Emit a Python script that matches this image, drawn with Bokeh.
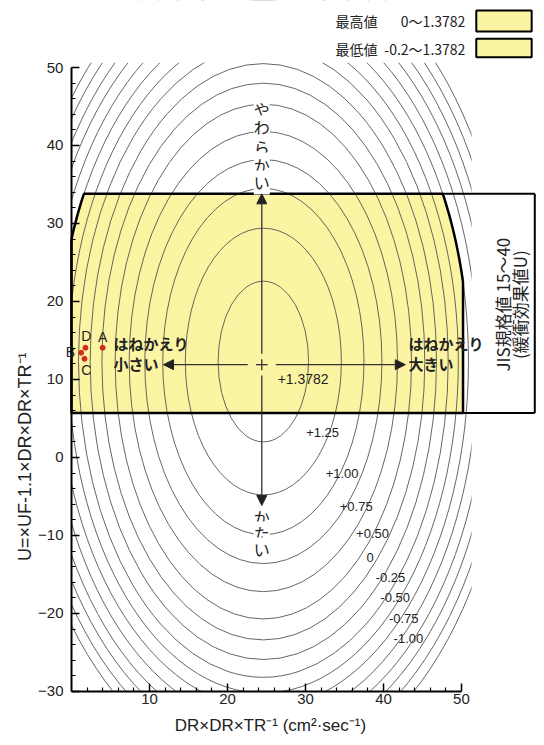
import numpy as np
from bokeh.plotting import figure
from bokeh.models import Range1d, FixedTicker, Arrow, NormalHead
from bokeh.core.properties import value
from bokeh.embed import file_html
from bokeh.resources import INLINE

# ---------------- data ----------------
levels = [1.25, 1.00, 0.75, 0.50, 0.25, 0.0, -0.25, -0.50, -0.75, -1.00,
          -1.25, -1.50, -1.75, -2.00, -2.25, -2.50]
semi_x = [5.8, 10.0, 12.9, 15.2, 17.2, 19.0, 20.7, 22.2, 23.7, 25.0,
          26.3, 27.5, 28.7, 29.8, 30.9, 31.9]
semi_y = [10.3, 17.1, 22.2, 25.9, 29.5, 33.0, 35.7, 38.2, 40.5, 42.5,
          44.4, 46.3, 48.1, 49.8, 51.5, 53.1]
center_x, center_y = 24.6, 12.3
cross_x, cross_y = 24.4, 11.9
peak_label = "+1.3782"
peak_x, peak_y = 29.7, 10.1

contour_labels = ["+1.25", "+1.00", "+0.75", "+0.50", "0", "-0.25", "-0.50", "-0.75", "-1.00"]
contour_label_x = [32.2, 34.7, 36.5, 38.6, 38.3, 40.9, 41.5, 42.6, 43.2]
contour_label_y = [3.2, -2.05, -6.3, -9.7, -12.8, -15.4, -17.9, -20.6, -23.2]

band_low, band_high = 5.7, 33.8          # yellow band (JIS range)
yellow_level = -1.25                      # contour bounding the yellow area
yellow_x_max = 50.2

point_names = ["A", "B", "C", "D"]
point_x = [4.0, 1.24, 1.67, 1.79]
point_y = [14.07, 13.43, 12.65, 14.07]
point_label_x = [4.0, -0.15, 1.9, 1.9]
point_label_y = [15.5, 13.5, 11.2, 15.6]

x_ticks = [10, 20, 30, 40, 50]
y_ticks = [-30, -20, -10, 0, 10, 20, 30, 40, 50]
x_minor = [v for v in range(0, 51, 2) if v % 10]
y_minor = [v for v in range(-30, 51, 2) if v % 10]
x_lo, x_hi = 0, 50
y_lo, y_hi = -30, 50

legend_names = ["最高値", "最低値"]
legend_ranges = ["0〜1.3782", "-0.2〜1.3782"]

YELLOW = "#fbf4a2"
LAT = value("Liberation Sans")
JP = value("Noto Sans CJK JP")

# ---------------- figure (frame fills the whole canvas) ----------------
p = figure(width=536, height=737, x_range=Range1d(-9.10, 59.62), y_range=Range1d(-35.90, 58.59),
           output_backend="svg", toolbar_location=None,
           min_border_left=0, min_border_right=0, min_border_top=0, min_border_bottom=0)
p.outline_line_color = None
p.xgrid.visible = False
p.ygrid.visible = False
p.background_fill_color = "white"
p.border_fill_color = "white"

p.xaxis.fixed_location = y_lo
p.yaxis.fixed_location = x_lo
p.xaxis.bounds = (x_lo, x_hi)
p.yaxis.bounds = (y_lo, y_hi)
p.xaxis.ticker = FixedTicker(ticks=x_ticks, minor_ticks=x_minor)
p.yaxis.ticker = FixedTicker(ticks=y_ticks, minor_ticks=y_minor)
for ax in (p.xaxis[0], p.yaxis[0]):
    ax.axis_line_width = 2
    ax.axis_line_color = "black"
    ax.major_tick_in = 8
    ax.major_tick_out = 0
    ax.minor_tick_in = 4
    ax.minor_tick_out = 0
    ax.major_tick_line_width = 1.5
    ax.minor_tick_line_width = 1.2
    ax.major_tick_line_color = "black"
    ax.minor_tick_line_color = "black"
    ax.major_label_text_font = "Liberation Sans"
    ax.major_label_text_font_size = "15px"
    ax.major_label_text_color = "#222222"
p.xaxis.major_label_standoff = 3
p.yaxis.major_label_standoff = 8

# ---------------- yellow region ----------------
iy = levels.index(yellow_level)
theta = np.linspace(0, 2 * np.pi, 721)
ex = np.clip(center_x + semi_x[iy] * np.cos(theta), x_lo, yellow_x_max)
ey = np.clip(center_y + semi_y[iy] * np.sin(theta), band_low, band_high)
p.patch(ex, ey, fill_color=YELLOW, line_color=None)

# ---------------- contour ellipses ----------------
n = len(levels)
p.ellipse(x=[center_x] * n, y=[center_y] * n,
          width=[2 * a for a in semi_x], height=[2 * b for b in semi_y],
          fill_color=None, line_color="#555555", line_width=0.9)

# white masks around the drawing area (left, bottom, top, right)
p.quad(left=[-10, -10, -10, 51.3], right=[x_lo, 61, 61, 61],
       bottom=[-37, -37, 50.6, -37], top=[60, y_lo, 60, 60],
       fill_color="white", line_color=None)

# yellow outline
p.patch(ex, ey, fill_color=None, line_color="black", line_width=2.5)

# JIS box
box_right = 59.4
corner_x = center_x + semi_x[iy] * np.sqrt(1 - ((band_high - center_y) / semi_y[iy]) ** 2)
p.segment(x0=[corner_x, yellow_x_max - 0.5, box_right], y0=[band_high, band_low, band_low],
          x1=[box_right, box_right, box_right], y1=[band_high, band_low, band_high],
          line_color="black", line_width=2)
p.text(x=[55.3, 57.5], y=[19.6, 19.6], text=["JIS規格値 15〜40", "(緩衝効果値U)"],
       angle=np.pi / 2, text_font=JP, text_font_size="17px", text_color="#222222",
       text_align="center", text_baseline="middle")

# ---------------- arrows and cross ----------------
arrows = [(cross_x, 13.3, cross_x, band_high),
          (cross_x, 10.5, cross_x, -6.15),
          (22.6, cross_y, 11.8, cross_y),
          (26.2, cross_y, 42.8, cross_y)]
for xs, ys, xe, ye in arrows:
    p.add_layout(Arrow(end=NormalHead(size=10, fill_color="#222222", line_color="#222222", line_width=1),
                       x_start=xs, y_start=ys, x_end=xe, y_end=ye,
                       line_color="#333333", line_width=1.3))
p.segment(x0=[cross_x - 0.75, cross_x], y0=[cross_y, cross_y - 0.7],
          x1=[cross_x + 0.75, cross_x], y1=[cross_y, cross_y + 0.7],
          line_color="#333333", line_width=1.3)

# ---------------- texts ----------------
p.text(x=[cross_x] * 5, y=[44.74, 42.31, 39.87, 37.56, 35.26], text=list("やわらかい"),
       text_font=JP, text_font_size="16px", text_color="#222222",
       text_align="center", text_baseline="middle", background_fill_color="white")
p.text(x=[cross_x] * 3, y=[-7.69, -9.74, -11.79], text=list("かたい"),
       text_font=JP, text_font_size="16px", text_color="#222222",
       text_align="center", text_baseline="middle", background_fill_color="white")

p.text(x=[5.4, 5.4, 43.2, 43.2], y=[14.6, 12.05, 14.6, 12.05],
       text=["はねかえり", "小さい", "はねかえり", "大きい"],
       text_font=JP, text_font_size="15px", text_font_style="bold", text_color="#222222",
       text_align="left", text_baseline="middle")

p.text(x=[peak_x], y=[peak_y], text=[peak_label], text_font=LAT, text_font_size="14px",
       text_color="#222222", text_align="center", text_baseline="middle")
p.text(x=contour_label_x, y=contour_label_y, text=contour_labels, text_font=LAT,
       text_font_size="13px", text_color="#222222", text_align="center", text_baseline="middle")

# points A-D
p.scatter(point_x, point_y, size=5, color="#d42a20")
p.text(x=point_label_x, y=point_label_y, text=point_names, text_font=LAT,
       text_font_size="14px", text_color="#222222", text_align="center", text_baseline="middle")

# legend at top
p.quad(left=[51.9, 51.9], right=[59.0, 59.0], bottom=[54.6, 51.3], top=[57.3, 53.7],
       fill_color=YELLOW, line_color="black", line_width=2)
p.text(x=[33.85, 33.85], y=[55.9, 52.4], text=legend_names, text_font=JP, text_font_size="14px",
       text_color="#222222", text_align="left", text_baseline="middle")
p.text(x=[50.5, 50.5], y=[55.9, 52.4], text=legend_ranges, text_font=JP, text_font_size="14px",
       text_color="#222222", text_align="right", text_baseline="middle")

# axis titles
p.text(x=[25.5], y=[-34.3], text=["DR×DR×TR⁻¹ (cm²·sec⁻¹)"], text_font=LAT,
       text_font_size="17px", text_color="#222222", text_align="center", text_baseline="middle")
p.text(x=[-5.9], y=[0.1], text=["U=×UF-1.1×DR×DR×TR⁻¹"], angle=np.pi / 2, text_font=LAT,
       text_font_size="18px", text_color="#222222", text_align="center", text_baseline="middle")

open("out.html", "w").write(file_html(p, INLINE))
